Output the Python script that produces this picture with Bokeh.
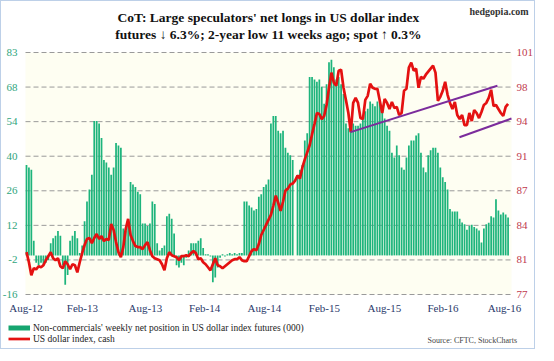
from bokeh.plotting import figure
from bokeh.models import Range1d, Legend, LegendItem, Label, BoxAnnotation, ColumnDataSource
from bokeh.core.properties import value
from bokeh.embed import file_html
from bokeh.resources import INLINE

# Weekly net position of non-commercials in US dollar index futures (000 contracts)
net_longs = [
    37, 36, 35, 6, -3, -4, -3, -4, -3, -2,
    5, 7, 8, 10, 8, -4, -12, -8, 6, 8,
    10, 7, 1, 4, 14, 22, 27, 33, 55, 55,
    54, 48, 39, 38, 36, 33, 36, 46, 45, 44,
    11, 10, 12, 30, 29, 28, 26, 25, 13, 13,
    12, 13, 22, 21, 5, 2, 3, 4, 16, 17,
    15, 9, -4, -5, -3, -4, -1, 2, 5, 5,
    5, 6, 7, 3, 0.5, 0.5, -0.5, -11, -9, -5,
    -1, 0.5, -0.5, 0.5, 1, 0.5, 1, 0.5, 1, 1,
    22, 22, 20.4, 19.6, 18.4, 19, 24, 25, 28, 29,
    31, 54, 57, 57, 51, 50, 51, 44, 42, 41,
    39, 0, 33, 35, 37, 47, 50, 73, 73, 72,
    71, 72, 69, 62, 70, 79, 80, 77, 72, 73,
    70, 66, 54, 52, 55, 54, 53, 53, 54, 56,
    59, 60, 63, 62, 61, 63, 63, 60, 56, 53,
    51, 42, 40, 45, 41, 36, 35, 40, 45, 47,
    47, 49, 50, 42, 36, 34, 41, 43, 44, 44,
    42, 36, 32, 30, 27, 19, 18, 18, 18, 15,
    13.5, 12.7, 10.5, 12, 12.5, 11.6, 11, 10.2, 5.3, 11,
    12.7, 13.4, 16, 15.5, 23, 18.4, 16.7, 17.5, 16.7, 15.5,
]

# US dollar index, cash (weekly)
usd_index = [
    81.2, 80.2, 78.9, 79.6, 79.5, 79.8, 79.7, 79.9, 80.4, 80.8,
    81.2, 80.6, 80.4, 80.6, 79.8, 79.6, 80.3, 80.0, 79.5, 80.0,
    79.9, 79.2, 80.2, 81.1, 81.9, 82.5, 82.6, 82.1, 82.6, 83.0,
    82.5, 82.8, 82.3, 82.5, 82.4, 84.0, 83.4, 82.2, 81.2, 80.7,
    81.7, 83.5, 84.5, 82.9, 82.3, 81.8, 81.7, 81.7, 81.5, 81.9,
    82.2, 81.4, 80.8, 80.6, 80.5, 80.4, 80.0, 79.4, 80.6, 81.2,
    80.9, 80.8, 80.7, 80.4, 80.8, 80.8, 80.9, 80.8, 81.1, 81.3,
    81.1, 80.5, 80.6, 80.2, 80.0, 79.7, 79.4, 80.0, 80.6, 79.9,
    79.8, 79.6, 79.8, 80.0, 80.2, 80.4, 80.5, 80.5, 80.7, 80.4,
    80.3, 80.3, 80.8, 81.3, 81.5, 81.4, 82.0, 82.9, 83.4, 83.9,
    84.4, 84.9, 85.8, 86.8, 86.1, 85.3, 86.2, 87.3, 87.5, 87.9,
    88.0, 88.3, 88.8, 88.5, 89.6, 90.4, 91.1, 91.8, 92.9, 93.9,
    95.0, 94.9, 94.4, 94.7, 95.8, 97.5, 99.0, 98.0, 97.7, 99.2,
    99.3, 97.5, 96.3, 95.0, 93.1, 96.0, 96.5, 96.0, 94.5, 94.4,
    96.3, 96.7, 97.9, 97.5, 97.4, 97.4, 96.2, 95.0, 96.4, 96.0,
    95.4, 96.1, 95.5, 95.6, 94.8, 95.0, 97.2, 97.4, 99.5, 100.0,
    99.2, 99.4, 97.5, 98.6, 98.4, 98.8, 99.1, 99.4, 99.7, 99.0,
    96.2, 96.6, 97.2, 98.1, 96.8, 96.0, 95.4, 96.1, 94.8, 94.4,
    94.8, 93.8, 93.8, 95.0, 94.2, 95.3, 95.0, 94.5, 95.1, 95.8,
    96.0, 96.5, 97.3, 95.7, 95.8, 95.4, 95.0, 94.7, 95.6, 95.9,
]

weeks = list(range(len(net_longs)))

# Trend channel drawn on the dollar index (week index, index level)
upper_trend_x = [133.9, 194.6]
upper_trend_y = [93.1, 97.7]
lower_trend_x = [178.9, 200.4]
lower_trend_y = [92.6, 94.45]

# Axis ticks and labels
left_ticks = [-16, -1.857, 12.286, 26.429, 40.571, 54.714, 68.857, 83]
left_labels = ["-16", "-2", "12", "26", "40", "54", "68", "83"]
right_ticks = [77, 80.43, 83.86, 87.29, 90.71, 94.14, 97.57, 101]
right_labels = ["77", "81", "84", "87", "91", "94", "98", "101"]
x_ticks = [-0.2, 23.1, 49.1, 73.6, 98.3, 123.1, 147.9, 172.1, 197.5]
x_labels = ["Aug-12", "Feb-13", "Aug-13", "Feb-14", "Aug-14", "Feb-15", "Aug-15", "Feb-16", "Aug-16"]

# Plot-area bounds in data units (week index / thousands of contracts / index level)
X_LO, X_HI = -0.413, 200.42
NET_LO, NET_HI = -16, 83
USD_LO, USD_HI = 77, 101

GREEN = "#1db47c"
RED = "#e41111"
PURPLE = "#7b2c9c"
SERIF = "Liberation Serif"

W, H = 535, 349
p = figure(width=W, height=H, output_backend="svg", toolbar_location=None,
           x_range=Range1d(-10.331, 210.744), y_range=Range1d(-38.909, 103.864),
           x_axis_type=None, y_axis_type=None,
           min_border_left=0, min_border_right=0, min_border_top=0, min_border_bottom=0,
           background_fill_color="white", border_fill_color="white",
           outline_line_color=None)
p.styles = {"border": "1px solid #bdd0e8"}
p.extra_y_ranges = {"usd": Range1d(71.446, 106.058)}
p.xgrid.visible = False
p.ygrid.visible = False

# plot area background
p.add_layout(BoxAnnotation(left=X_LO, right=X_HI, bottom=NET_LO, top=NET_HI,
                           fill_color="#fefef2", fill_alpha=1, line_color=None,
                           level="underlay"))

# horizontal dashed grid lines at the left-axis ticks
p.segment(x0=[X_LO] * len(left_ticks), x1=[X_HI] * len(left_ticks),
          y0=left_ticks, y1=left_ticks, line_color="#9a9a9a", line_width=1,
          line_dash="5 3")

# tick labels
p.text(x=[X_LO] * len(left_ticks), y=left_ticks, text=left_labels,
       x_offset=-8, text_align="right", text_baseline="middle",
       text_font=value(SERIF), text_font_size="11px", text_color="#2fa57d")
p.text(x=[X_HI] * len(right_ticks), y=right_ticks, text=right_labels,
       y_range_name="usd", x_offset=5, text_align="left", text_baseline="middle",
       text_font=value(SERIF), text_font_size="11px", text_color="#c0394d")
p.text(x=x_ticks, y=[NET_LO] * len(x_ticks), text=x_labels,
       y_offset=13, text_align="center", text_baseline="middle",
       text_font=value(SERIF), text_font_size="11px", text_color="#2b3a6b")

src = ColumnDataSource(dict(week=weeks, net=net_longs, usd=usd_index))

bars = p.vbar(x="week", top="net", bottom=0, width=0.72, source=src,
              fill_color=GREEN, line_color=None)
usd_line = p.line(x="week", y="usd", source=src, line_color=RED, line_width=2.7,
                  y_range_name="usd")
p.line(upper_trend_x, upper_trend_y, line_color=PURPLE, line_width=2, y_range_name="usd")
p.line(lower_trend_x, lower_trend_y, line_color=PURPLE, line_width=2, y_range_name="usd")

# legend swatch for the bars (thick green stroke, as in the original); draws nothing in the plot
bar_swatch = p.line(x=[0], y=[float("nan")], line_color="#16a56f", line_width=5)

legend = Legend(items=[
    LegendItem(label=value("Non-commercials' weekly net position in US dollar index futures (000)"),
               renderers=[bar_swatch]),
    LegendItem(label=value("US dollar index, cash"), renderers=[usd_line]),
], location=(7, 6), orientation="vertical",
    glyph_width=22, glyph_height=11, label_height=11, label_width=10,
    spacing=0, padding=0, margin=0, label_standoff=3,
    border_line_color=None, background_fill_alpha=0,
    label_text_font=SERIF, label_text_font_size="9.5px", label_text_color="#222222")
p.add_layout(legend, "center")

# Title (two centred lines), site name and source note
title_lines = ["CoT: Large speculators' net longs in US dollar index",
               "futures \u2193 6.3%; 2-year low 11 weeks ago; spot \u2191 0.3%"]
for txt, ys in zip(title_lines, [333, 316.3]):
    p.add_layout(Label(x=267, y=ys, x_units="screen", y_units="screen", text=txt,
                       text_align="center", text_baseline="middle", text_font=SERIF,
                       text_font_size="13.5px", text_font_style="bold",
                       text_color="#111111"))
p.add_layout(Label(x=468, y=339, x_units="screen", y_units="screen", text="hedgopia.com",
                   text_baseline="middle", text_align="left", text_font=SERIF,
                   text_font_size="10px", text_font_style="bold", text_color="#333333"))
p.add_layout(Label(x=426, y=10.4, x_units="screen", y_units="screen",
                   text="Source: CFTC, StockCharts",
                   text_baseline="middle", text_align="left", text_font=SERIF,
                   text_font_size="8px", text_color="#444444"))

open("out.html", "w").write(file_html(p, INLINE))
